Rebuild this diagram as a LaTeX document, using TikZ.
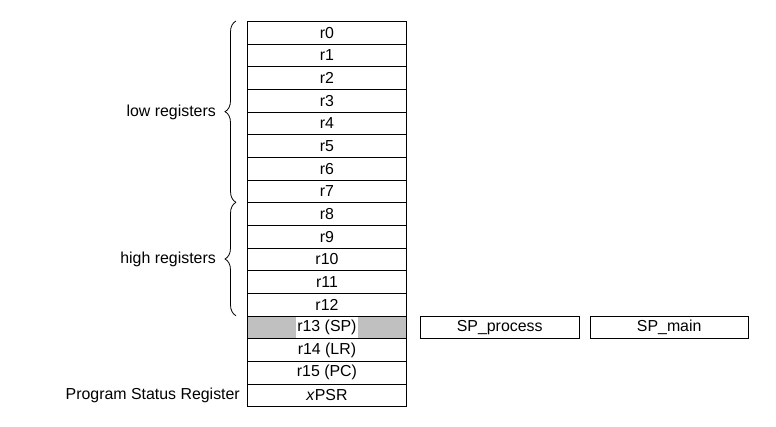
\documentclass[tikz,border=0pt]{standalone}
\usepackage{fontspec}
\setmainfont{Liberation Sans}
\usetikzlibrary{decorations.pathreplacing}
\definecolor{regfill}{HTML}{C0C0C0}
\begin{document}
\begin{tikzpicture}[x=1pt,y=-1pt,
  font=\fontsize{15.9}{18}\selectfont,
  regbox/.style={draw, line width=0.9pt, minimum width=159pt, minimum height=22.667pt,
    inner sep=0pt, anchor=north west},
  spbox/.style={draw, line width=0.9pt, minimum width=158.5pt, minimum height=22.667pt,
    inner sep=0pt, anchor=north west},
  lbl/.style={anchor=east, inner sep=0pt},
  bracestyle/.style={decorate, decoration={brace, amplitude=11pt}, line width=0.8pt}]
\useasboundingbox (0,0) rectangle (776,427);
\foreach \i in {0,...,12}
  \node[regbox] (r\i) at (247, 21+22.667*\i) {r\i};
\node[regbox, fill=regfill] (r13) at (247, 21+22.667*13) {};
\node[fill=white, inner xsep=1pt, inner ysep=0pt, minimum height=20.6pt] (r13txt) at (r13.center) {r13 (SP)};
\node[regbox] (r14) at (247, 21+22.667*14) {r14 (LR)};
\node[regbox] (r15) at (247, 21+22.667*15) {r15 (PC)};
\node[regbox] (xpsr) at (247, 21+22.667*16) {\textit{x}PSR};
\node[spbox] (spp) at (420, 21+22.667*13) {SP\_process};
\node[spbox] (spm) at (589.5, 21+22.667*13) {SP\_main};
\coordinate (lowtop) at (236, 21);
\coordinate (lowbot) at (236, 202.3);
\coordinate (hightop) at (236, 202.3);
\coordinate (highbot) at (236, 315.7);
\draw[bracestyle] (lowbot) -- (lowtop);
\draw[bracestyle] (highbot) -- (hightop);
\node[lbl] (lowlbl) at (216, 112) {low registers};
\node[lbl] (highlbl) at (216, 259) {high registers};
\node[lbl] (psrlbl) at (240, 395.5) {Program Status Register};
\end{tikzpicture}
\end{document}
